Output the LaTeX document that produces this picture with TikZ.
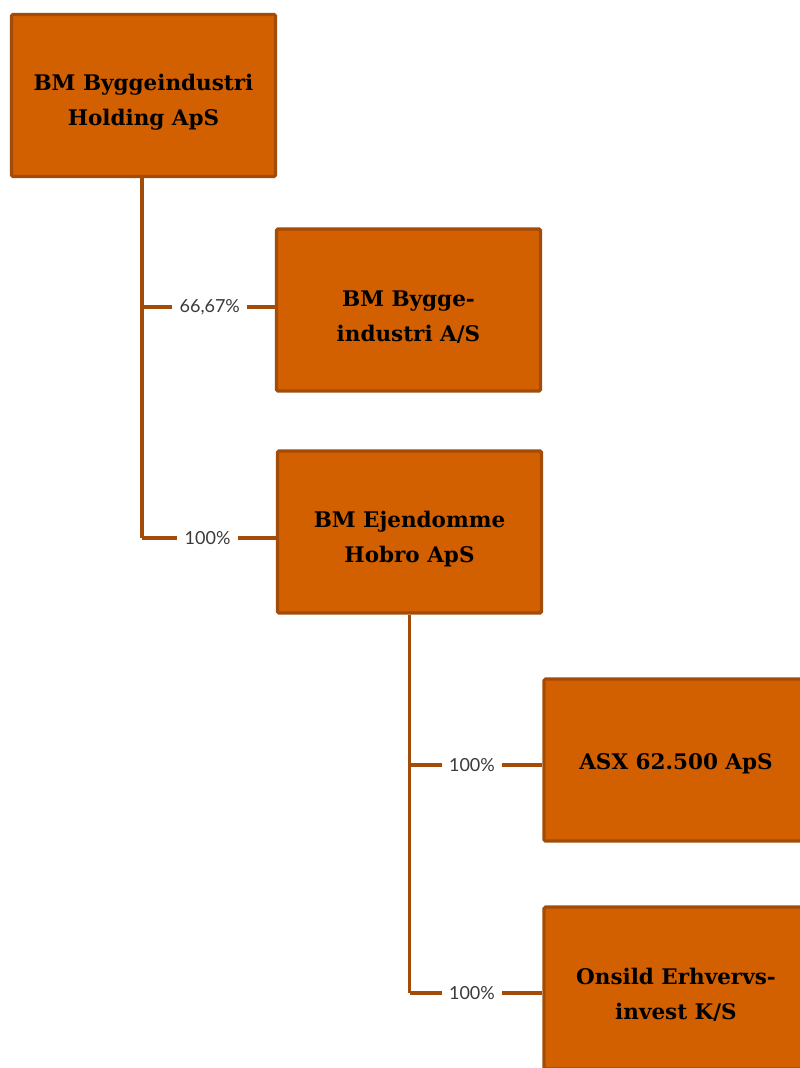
\documentclass[tikz,border=0pt]{standalone}
\usepackage{fontspec}
\newfontfamily\boxfont{DejaVu Serif}
\newfontfamily\labfont{Lato}
\definecolor{boxfill}{HTML}{D26000}
\definecolor{boxline}{HTML}{A34B08}
\definecolor{labtext}{HTML}{3A3A3A}
\begin{document}
\begin{tikzpicture}[x=1pt,y=-1pt,
  company/.style={draw=boxline, fill=boxfill, line width=3.2pt, rounded corners=1.5pt,
    minimum width=264pt, minimum height=162pt, inner sep=0pt},
  boxtext/.style={align=center, inner sep=0pt,
    font=\boxfont\bfseries\fontsize{21.5}{35}\selectfont, text=black},
  conn/.style={draw=boxline, line width=3.2pt},
  pct/.style={fill=white, inner xsep=7.5pt, inner ysep=3pt, text=labtext,
    font=\labfont\fontsize{18}{20}\selectfont}]
\useasboundingbox (0,0) rectangle (800,1068);
\clip (0,0) rectangle (800,1068);
\node[company] (b1) at (143.5,95.5) {};
\node[company] (b2) at (408.5,310) {};
\node[company] (b3) at (409.5,532) {};
\node[company] (b4) at (676,760) {};
\node[company] (b5) at (676,988) {};
\node[boxtext] (t1) at ([yshift=-7pt]b1.center) {BM Byggeindustri\\Holding ApS};
\node[boxtext] (t2) at ([yshift=-7pt]b2.center) {BM Bygge-\\industri A/S};
\node[boxtext] (t3) at ([yshift=-7pt]b3.center) {BM Ejendomme\\Hobro ApS};
\node[boxtext] (t4) at ([yshift=-4pt]b4.center) {ASX 62.500 ApS};
\node[boxtext] (t5) at ([yshift=-7pt]b5.center) {Onsild Erhvervs-\\invest K/S};
\coordinate (j1) at (142,307);
\coordinate (j2) at (142,538);
\coordinate (j3) at (409.5,765);
\coordinate (j4) at (409.5,993);
\draw[conn] (b1.south -| j1) -- (j2);
\draw[conn] (j1) -- (j1 -| b2.west) node[pct, pos=0.51] {66,67\%};
\draw[conn] (j2) -- (j2 -| b3.west) node[pct, pos=0.49] {100\%};
\draw[conn] (b3.south) -- (j4);
\draw[conn] (j3) -- (j3 -| b4.west) node[pct, pos=0.47] {100\%};
\draw[conn] (j4) -- (j4 -| b5.west) node[pct, pos=0.47] {100\%};
\end{tikzpicture}
\end{document}
